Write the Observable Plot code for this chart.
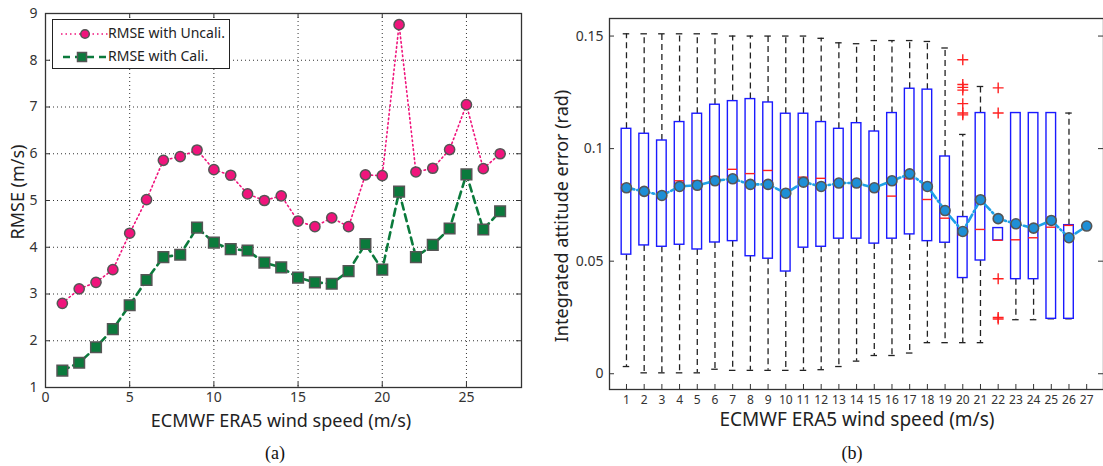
<!DOCTYPE html>
<html>
<head>
<meta charset="utf-8">
<script src="https://cdn.jsdelivr.net/npm/d3@7"></script>
<script src="https://cdn.jsdelivr.net/npm/@observablehq/plot@0.6"></script>
<style>
  body { margin: 0; background: #fff; }
  #wrap { position: relative; width: 1103px; height: 466px; background: #fff; overflow: hidden; font-family: "Noto Sans", sans-serif; color: #222; }
  .panel { position: absolute; top: 0; }
  .lbl { position: absolute; white-space: nowrap; font-family: "Noto Sans", sans-serif; color: #222; }
  .cap { position: absolute; font-family: "Liberation Serif", serif; font-size: 18px; color: #111; }
  .legend { position: absolute; background: #fff; border: 1px solid #222; }
  .legend .row { position: absolute; left: 0; font-size: 14px; white-space: nowrap; }
</style>
</head>
<body>
<div id="wrap">
  <div id="pa" class="panel" style="left:0px"></div>
  <div id="pb" class="panel" style="left:550px"></div>
</div>
<script>
// ---------- Panel (a) data ----------
const windA = [1,2,3,4,5,6,7,8,9,10,11,12,13,14,15,16,17,18,19,20,21,22,23,24,25,26,27];
const rmseUncali = [2.80,3.11,3.25,3.52,4.30,5.02,5.86,5.94,6.08,5.66,5.54,5.14,5.00,5.10,4.56,4.44,4.63,4.44,5.55,5.53,8.76,5.61,5.69,6.09,7.05,5.68,6.00];
const rmseCali   = [1.36,1.53,1.86,2.25,2.76,3.30,3.79,3.84,4.42,4.10,3.96,3.93,3.67,3.57,3.35,3.25,3.22,3.49,4.07,3.52,5.19,3.79,4.05,4.40,5.56,4.38,4.77];
const xTicksA = [0,5,10,15,20,25];
const yTicksA = [1,2,3,4,5,6,7,8,9];
const seriesNames = ["RMSE with Uncali.", "RMSE with Cali."];

// ---------- Panel (b) data ----------
const windB = [1,2,3,4,5,6,7,8,9,10,11,12,13,14,15,16,17,18,19,20,21,22,23,24,25,26,27];
const whiskHi = [0.151,0.151,0.151,0.151,0.151,0.151,0.150,0.150,0.150,0.150,0.150,0.149,0.147,0.1466,0.148,0.148,0.148,0.1476,0.1447,0.1063,0.1276,null,null,null,null,0.1158,null];
const q3      = [0.1088,0.1066,0.1036,0.1118,0.1155,0.1195,0.1211,0.1220,0.1205,0.1155,0.1155,0.1118,0.1088,0.1113,0.1076,0.1158,0.1266,0.1262,0.0965,0.0696,0.1158,0.0647,0.1158,0.1158,0.1158,0.0660,null];
const median  = [0.0841,0.0812,0.0795,0.0857,0.0857,0.0876,0.0908,0.0889,0.0903,0.0801,0.0873,0.0868,0.0849,0.0847,0.0826,0.0789,0.0866,0.0774,0.0691,0.0617,0.0641,0.0593,0.0595,0.0604,0.0651,0.0659,null];
const q1      = [0.0529,0.0570,0.0564,0.0573,0.0552,0.0583,0.0589,0.0522,0.0511,0.0454,0.0560,0.0564,0.0600,0.0600,0.0578,0.0600,0.0619,0.0589,0.0582,0.0425,0.0503,0.0592,0.0420,0.0420,0.0244,0.0244,null];
const whiskLo = [0.0032,0.0004,0.0004,0.0004,0.0004,0.0020,0.0015,0.0015,0.0015,0.0015,0.0015,0.0018,0.0032,0.0056,0.0081,0.0081,0.0092,0.0138,0.0138,0.0138,0.0138,null,0.0240,0.0240,0.0244,0.0244,null];
const meanErr = [0.0826,0.0810,0.0792,0.0832,0.0837,0.0857,0.0866,0.0841,0.0841,0.0802,0.0851,0.0832,0.0847,0.0847,0.0826,0.0857,0.0888,0.0832,0.0725,0.0632,0.0773,0.0689,0.0666,0.0647,0.0681,0.0604,0.0656];
const outlierWind  = [20,20,20,20,20,20,20,22,22,22,22,22];
const outlierValue = [0.1395,0.1285,0.1272,0.1260,0.1200,0.1158,0.1150,0.1270,0.1158,0.0422,0.0250,0.0243];
const xTicksB = windB;
const yTicksB = [0,0.05,0.1,0.15];

const FONT = "Noto Sans, sans-serif";
const INK = "#333";
const PINK = "#f0147c";
const GREEN = "#0b7a3c";

// ================= Panel (a) =================
{
  const W = 550, H = 430;
  const mL = 45, mR = 29, mT = 13, mB = 43;
  const xDom = [0, 28.27], yDom = [1, 9];
  const pxX = (W - mL - mR) / (xDom[1] - xDom[0]);
  const pxY = (H - mT - mB) / (yDom[1] - yDom[0]);
  const tx = 5 / pxX, ty = 5 / pxY;
  const rows = windA.map((w, i) => ({w, u: rmseUncali[i], c: rmseCali[i]}));
  const chart = Plot.plot({
    width: W, height: H,
    marginLeft: mL, marginRight: mR, marginTop: mT, marginBottom: mB,
    style: {fontFamily: FONT, fontSize: "14px", color: INK, background: "#fff", overflow: "visible"},
    x: {domain: xDom, label: null},
    y: {domain: yDom, label: null},
    marks: [
      Plot.ruleX(xTicksA.filter(d => d > xDom[0]), {stroke: INK, strokeWidth: 1, strokeDasharray: "1,3"}),
      Plot.ruleY(yTicksA.filter(d => d > yDom[0] && d < yDom[1]), {stroke: INK, strokeWidth: 1, strokeDasharray: "1,3"}),
      Plot.frame({stroke: INK, strokeWidth: 1.3}),
      // inward ticks (bottom/top/left/right)
      Plot.ruleX(xTicksA, {y1: yDom[0], y2: yDom[0] + ty, stroke: INK}),
      Plot.ruleX(xTicksA, {y1: yDom[1], y2: yDom[1] - ty, stroke: INK}),
      Plot.ruleY(yTicksA, {x1: xDom[0], x2: xDom[0] + tx, stroke: INK}),
      Plot.ruleY(yTicksA, {x1: xDom[1], x2: xDom[1] - tx, stroke: INK}),
      Plot.axisX({ticks: xTicksA, tickSize: 0, tickPadding: 5, fontSize: 14, fill: INK, label: null}),
      Plot.axisY({ticks: yTicksA, tickSize: 0, tickPadding: 8, fontSize: 14, fill: INK, label: null}),
      Plot.line(rows, {x: "w", y: "u", stroke: PINK, strokeWidth: 1.6, strokeDasharray: "1.5,3"}),
      Plot.line(rows, {x: "w", y: "c", stroke: GREEN, strokeWidth: 2.6, strokeDasharray: "7,5"}),
      Plot.dot(rows, {x: "w", y: "u", r: 5.1, fill: PINK, stroke: "#555", strokeWidth: 1.5}),
      Plot.dot(rows, {x: "w", y: "c", symbol: "square", r: 6, fill: GREEN, stroke: "#555", strokeWidth: 1.5})
    ]
  });
  document.getElementById("pa").appendChild(chart);
}

// ================= Panel (b) =================
{
  const W = 553, H = 430;
  const mL = 59, mR = 0, mT = 18, mB = 41;
  const xDom = [0.041, 27.95], yDom = [-0.0070, 0.1578];
  const pxX = (W - mL - mR) / (xDom[1] - xDom[0]);
  const pxY = (H - mT - mB) / (yDom[1] - yDom[0]);
  const tx = 5 / pxX, ty = 5 / pxY;
  const boxW = 9.6 / pxX, capW = 6.5 / pxX;
  const rows = windB.map((w, i) => ({w, hi: whiskHi[i], q3: q3[i], med: median[i], q1: q1[i], lo: whiskLo[i], mean: meanErr[i]}));
  const boxes = rows.filter(d => d.q3 != null);
  const upper = rows.filter(d => d.hi != null);
  const lower = rows.filter(d => d.lo != null && d.lo < d.q1);
  const outs = outlierWind.map((w, i) => ({w, v: outlierValue[i]}));
  const chart = Plot.plot({
    width: W, height: H,
    marginLeft: mL, marginRight: mR, marginTop: mT, marginBottom: mB,
    style: {fontFamily: FONT, fontSize: "14px", color: INK, background: "#fff", overflow: "visible"},
    x: {domain: xDom, label: null},
    y: {domain: yDom, label: null},
    marks: [
      Plot.frame({stroke: INK, strokeWidth: 1.3}),
      Plot.ruleY(yTicksB, {x1: xDom[0], x2: xDom[0] + tx, stroke: INK}),
      Plot.ruleY(yTicksB, {x1: xDom[1], x2: xDom[1] - tx, stroke: INK}),
      Plot.ruleX(xTicksB, {y1: yDom[0], y2: yDom[0] + ty, stroke: INK}),
      Plot.axisX({ticks: xTicksB, tickSize: 0, tickPadding: 6, fontSize: 12, fill: INK, label: null}),
      Plot.axisY({ticks: yTicksB, tickSize: 0, tickPadding: 6, fontSize: 14, fill: INK, label: null, tickFormat: d => d === 0 ? "0" : String(d)}),
      // whiskers
      Plot.ruleX(upper, {x: "w", y1: "q3", y2: "hi", stroke: "#222", strokeWidth: 1.3, strokeDasharray: "6,4"}),
      Plot.ruleX(lower, {x: "w", y1: "q1", y2: "lo", stroke: "#222", strokeWidth: 1.3, strokeDasharray: "6,4"}),
      Plot.ruleY(upper, {y: "hi", x1: d => d.w - capW / 2, x2: d => d.w + capW / 2, stroke: "#222", strokeWidth: 1.3}),
      Plot.ruleY(rows.filter(d => d.lo != null), {y: "lo", x1: d => d.w - capW / 2, x2: d => d.w + capW / 2, stroke: "#222", strokeWidth: 1.3}),
      // boxes
      Plot.rect(boxes, {x1: d => d.w - boxW / 2, x2: d => d.w + boxW / 2, y1: "q1", y2: "q3", fill: "#fff", stroke: "#1a1aff", strokeWidth: 1.4}),
      Plot.ruleY(boxes, {y: "med", x1: d => d.w - boxW / 2, x2: d => d.w + boxW / 2, stroke: "#ff2020", strokeWidth: 1.4}),
      // outliers
      Plot.dot(outs, {x: "w", y: "v", symbol: "plus", r: 3.6, stroke: "#ff2020", strokeWidth: 1.4}),
      // mean line
      Plot.line(rows, {x: "w", y: "mean", stroke: "#1ea0e6", strokeWidth: 2.6, strokeDasharray: "8,3,1.5,3"}),
      Plot.dot(rows, {x: "w", y: "mean", r: 5, fill: "#1e8fd6", stroke: "#555", strokeWidth: 1.6})
    ]
  });
  document.getElementById("pb").appendChild(chart);
}

// ---------- text labels, legend, captions ----------
const wrap = document.getElementById("wrap");
function addLabel(text, cx, cy, size, rotate) {
  const d = document.createElement("div");
  d.className = "lbl";
  d.textContent = text;
  d.style.fontSize = size + "px";
  d.style.left = cx + "px";
  d.style.top = cy + "px";
  d.style.transform = "translate(-50%,-50%)" + (rotate ? " rotate(-90deg)" : "");
  wrap.appendChild(d);
}
addLabel("ECMWF ERA5 wind speed (m/s)", 281, 420, 18, false);
addLabel("RMSE (m/s)", 17, 192, 18, true);
addLabel("ECMWF ERA5 wind speed (m/s)", 857, 419, 19, false);
addLabel("Integrated attitude error (rad)", 561, 216, 18, true);

function addCap(text, cx, cy) {
  const d = document.createElement("div");
  d.className = "cap";
  d.textContent = text;
  d.style.left = cx + "px";
  d.style.top = cy + "px";
  d.style.transform = "translate(-50%,-50%)";
  wrap.appendChild(d);
}
addCap("(a)", 275, 453);
addCap("(b)", 852, 453);

// legend for panel (a)
{
  const lg = document.createElement("div");
  lg.className = "legend";
  lg.style.left = "52px"; lg.style.top = "19px";
  lg.style.width = "176px"; lg.style.height = "48px";
  const svgNS = "http://www.w3.org/2000/svg";
  const svg = document.createElementNS(svgNS, "svg");
  svg.setAttribute("width", 60); svg.setAttribute("height", 48);
  svg.style.position = "absolute"; svg.style.left = "0px"; svg.style.top = "0px";
  svg.innerHTML =
    `<line x1="8" x2="56" y1="14" y2="14" stroke="${PINK}" stroke-width="1.6" stroke-dasharray="1.5,3"/>` +
    `<circle cx="32" cy="14" r="4.3" fill="${PINK}" stroke="#555" stroke-width="1.5"/>` +
    `<line x1="10" x2="56" y1="37" y2="37" stroke="${GREEN}" stroke-width="2.6" stroke-dasharray="7,5"/>` +
    `<rect x="24.5" y="32.5" width="9" height="9" fill="${GREEN}" stroke="#555" stroke-width="1.5"/>`;
  lg.appendChild(svg);
  seriesNames.forEach((name, i) => {
    const r = document.createElement("div");
    r.className = "row";
    r.textContent = name;
    r.style.left = "55px";
    r.style.top = (i === 0 ? 3 : 26) + "px";
    lg.appendChild(r);
  });
  wrap.appendChild(lg);
}
</script>
</body>
</html>
